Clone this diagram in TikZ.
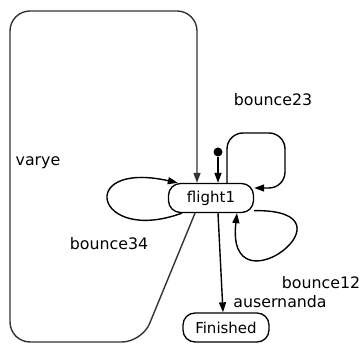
\documentclass[tikz,border=0pt]{standalone}
\usepackage{fontspec}
\setmainfont{DejaVu Sans}
\usetikzlibrary{arrows.meta}

\begin{document}
\begin{tikzpicture}[
    x=1pt, y=1pt, % one unit per pixel of the picture
    state/.style={ % Style for the states
        rectangle,
        rounded corners=12pt,
        draw=black,
        line width=1.3pt,
        minimum width=85pt,
        minimum height=29pt,
        inner sep=2pt,
        font=\fontsize{15}{18}\selectfont
    },
    % Transition style, takes line colour as argument
    trans/.style={
        -{Triangle[length=10pt, width=7pt]},
        line width=1.4pt,
        draw=#1
    },
    trans/.default=black,
    lbl/.style={font=\fontsize{15.8}{19}\selectfont, inner sep=0pt}
]
\useasboundingbox (0,0) rectangle (361,344);

% States
\node[state] (flight1) at (211,146) {flight1};
\node[state, minimum width=86pt] (finished) at (226,16.5) {Finished};
\node[circle, fill=black, inner sep=0pt, minimum size=9pt] (start) at (218,192) {};

% Corners of the big loop
\coordinate (vBR) at (142,2);
\coordinate (vBL) at (10,2);
\coordinate (vTL) at (10,333);
\coordinate (vTR) at (197,333);

% Transitions
\draw[trans] (start) -- (start |- flight1.north);
\draw[trans=black!80, rounded corners=20pt] ([xshift=-16pt]flight1.south) -- (vBR) -- (vBL) -- (vTL) -- (vTR) -- (flight1.north -| vTR);
\draw[trans, rounded corners=16pt] ([xshift=16pt]flight1.north) -- (227,211) -- (285,211) -- (285,156) -- ([yshift=10pt]flight1.east);
\draw[trans] ([xshift=14pt]flight1.south west) .. controls (95,99) and (75,184) .. ([xshift=10pt]flight1.north west);
\draw[trans] ([yshift=2.5pt]flight1.south east) .. controls (365,135) and (225,28) .. ([xshift=26pt]flight1.south);
\draw[trans] ([xshift=7pt]flight1.south) -- ([xshift=-3pt]finished.north);

% Labels
\node[lbl] (varye) at (38,181) {varye};
\node[lbl] (b23) at (273,244) {bounce23};
\node[lbl] (b34) at (109,100) {bounce34};
\node[lbl] (b12) at (321,61) {bounce12};
\node[lbl] (aus) at (280,42) {ausernanda};

\end{tikzpicture}
\end{document}
